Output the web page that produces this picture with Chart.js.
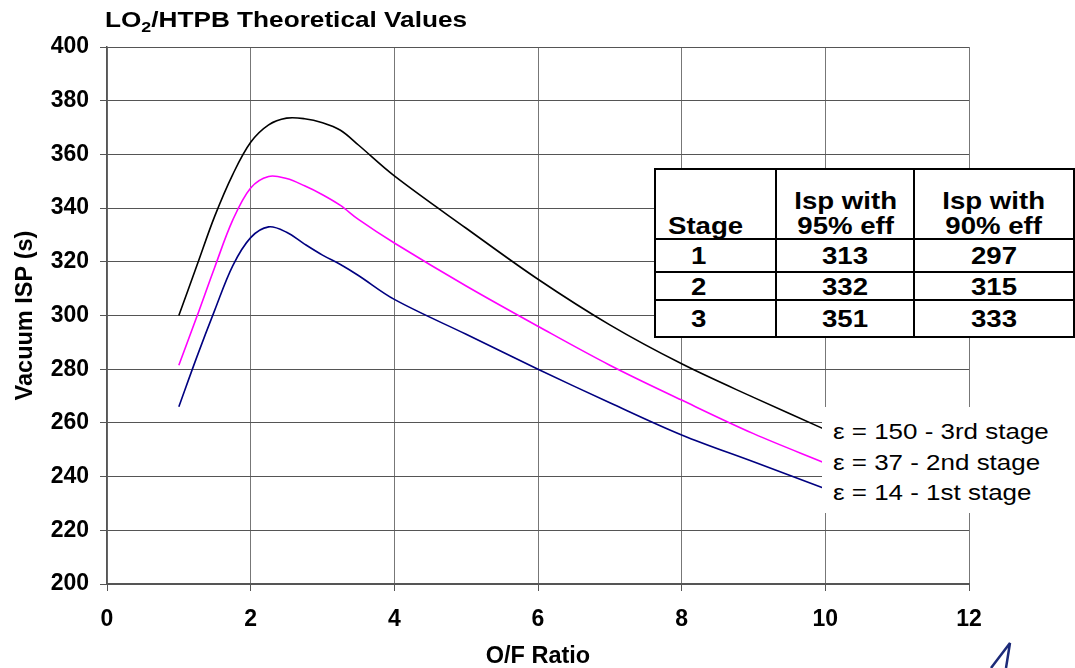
<!DOCTYPE html>
<html>
<head>
<meta charset="utf-8">
<script src="https://cdn.jsdelivr.net/npm/chart.js@4"></script>
<style>
  html, body { margin: 0; padding: 0; background: #fff; overflow: hidden; }
  #wrap { position: relative; width: 1075px; height: 668px; }
  #title { position: absolute; left: 105px; top: 7px; font: bold 22px "Liberation Sans", Arial, sans-serif;
           transform: scaleX(1.19); transform-origin: left top; white-space: nowrap; }
  #title sub { font-size: 15px; }
  #isp { position: absolute; left: 654px; top: 168px; border-collapse: collapse; background: #fff;
         font: bold 24px "Liberation Sans", Arial, sans-serif; line-height: 25px; }
  #isp td { border: 2.5px solid #000; padding: 0; text-align: center; }
  #isp span { display: inline-block; transform: scaleX(1.15); }
  #labels { position: absolute; left: 822px; top: 407px; width: 240px; height: 106px; background: #fff;
            font: 22px "Liberation Sans", Arial, sans-serif; }
  #labels div { position: absolute; left: 11px; white-space: nowrap; transform: scaleX(1.18); transform-origin: left center; }
  #logo { position: absolute; left: 0; top: 0; }
</style>
</head>
<body>
<div id="wrap">
  <canvas id="ispChart" width="1075" height="668"></canvas>
  <div id="title">LO<sub>2</sub>/HTPB Theoretical Values</div>
  <table id="isp"></table>
  <div id="labels"></div>
  <svg id="logo" width="1075" height="668">
    <path d="M991 668 L1010 643 L1006 668" fill="none" stroke="#1c2a78" stroke-width="2.5"/>
  </svg>
</div>
<script>
// DATA

var ofRatio = [1, 1.25, 1.5, 1.75, 2, 2.25, 2.5, 2.75, 3, 3.25, 3.5, 4, 5, 6, 7, 8, 9, 10];
var isp150 = [300, 318.5, 337, 352.5, 364.5, 371, 373.5, 373.3, 371.8, 369, 363.5, 352, 332.5, 313.5, 296.5, 282, 269.5, 257.5];
var isp37 = [281.5, 299.5, 318, 335.5, 347.5, 351.8, 351, 348.3, 345, 341, 335.8, 327, 311, 296, 281.5, 268.5, 256, 245];
var isp14 = [266, 284.5, 302, 318.5, 329, 333, 331, 326.6, 322.5, 319, 314.9, 306, 293, 280, 267.5, 255.5, 245.5, 235.5];

var seriesNames = ['\u03b5 = 150 - 3rd stage', '\u03b5 = 37 - 2nd stage', '\u03b5 = 14 - 1st stage'];
var seriesColors = ['#000000', '#ff00ff', '#000080'];

var xTicks = [0, 2, 4, 6, 8, 10, 12];
var yTicks = [200, 220, 240, 260, 280, 300, 320, 340, 360, 380, 400];

var tableHead = ['Stage', 'Isp with<br>95% eff', 'Isp with<br>90% eff'];
var tableStage = ['1', '2', '3'];
var isp95 = [313, 332, 351];
var isp90 = [297, 315, 333];

// TABLE AND LABELS

var tbl = document.getElementById('isp');
var rowH = [70, 33, 28, 37];
var colW = [112, 145, 170];
var html = '<tr style="height:' + rowH[0] + 'px">';
tableHead.forEach(function (h, i) {
  var align = i === 0 ? 'text-align:left;padding-left:12px;vertical-align:bottom;' : 'vertical-align:bottom;';
  var origin = i === 0 ? 'transform-origin:left center' : '';
  html += '<td style="width:' + colW[i] + 'px;' + align + '"><span style="' + origin + '">' + h + '</span></td>';
});
html += '</tr>';
tableStage.forEach(function (s, i) {
  html += '<tr style="height:' + rowH[i + 1] + 'px">' +
    '<td style="text-align:left;padding-left:36px"><span>' + s + '</span></td>' +
    '<td><span>' + isp95[i] + '</span></td><td><span>' + isp90[i] + '</span></td></tr>';
});
tbl.innerHTML = html;

var lbl = document.getElementById('labels');
seriesNames.forEach(function (n, i) {
  var d = document.createElement('div');
  d.style.top = (12 + i * 30.5) + 'px';
  d.textContent = n;
  lbl.appendChild(d);
});

// CHART

var tickFont = { family: '"Liberation Sans", Arial, sans-serif', size: 23, weight: 'bold' };
var titleFont = { family: '"Liberation Sans", Arial, sans-serif', size: 23.5, weight: 'bold', lineHeight: 1 };

var ctx = document.getElementById('ispChart').getContext('2d');

var chart = new Chart(ctx, {
  type: 'line',
  data: {
    datasets: [isp150, isp37, isp14].map(function (vals, i) {
      return {
        label: seriesNames[i],
        data: ofRatio.map(function (x, j) { return { x: x, y: vals[j] }; }),
        borderColor: seriesColors[i],
        borderWidth: 1.6,
        pointRadius: 0,
        tension: 0.35,
        fill: false
      };
    })
  },
  options: {
    responsive: false,
    animation: false,
    layout: { padding: { top: 47, right: 106, bottom: 0, left: 0 } },
    plugins: { legend: { display: false }, tooltip: { enabled: false } },
    scales: {
      x: {
        type: 'linear',
        min: 0,
        max: 12,
        afterBuildTicks: function (s) { s.ticks = xTicks.map(function (v) { return { value: v }; }); },
        afterFit: function (s) { s.height = 84; },
        ticks: { color: '#000', font: tickFont, padding: 15, maxRotation: 0 },
        grid: { color: '#777', lineWidth: 1, tickLength: 7, tickColor: '#555' },
        border: { color: '#555', width: 2 },
        title: { display: true, text: 'O/F Ratio', color: '#000', font: titleFont, padding: { top: 0, bottom: 0 } }
      },
      y: {
        min: 200,
        max: 400,
        afterBuildTicks: function (s) { s.ticks = yTicks.map(function (v) { return { value: v }; }); },
        afterFit: function (s) { s.width = 107; },
        ticks: { color: '#000', font: tickFont, padding: 11 },
        grid: { color: '#555', lineWidth: 1, tickLength: 7, tickColor: '#555' },
        border: { color: '#555', width: 1.5 },
        title: { display: true, text: 'Vacuum ISP (s)', color: '#000', font: titleFont, padding: { top: 14, bottom: 0 } }
      }
    }
  }
});
</script>
</body>
</html>
